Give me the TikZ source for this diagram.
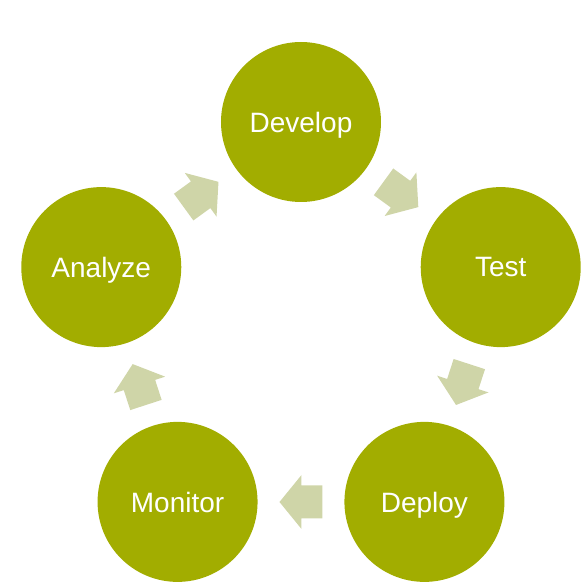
\documentclass[tikz,border=0pt]{standalone}
\usepackage{fontspec}
\setmainfont{Liberation Sans}
\definecolor{olivecirc}{RGB}{162,173,0}
\definecolor{olivearrow}{RGB}{207,213,168}
\tikzset{
  stage/.style={circle, fill=olivecirc, minimum size=160pt, inner sep=0pt, text depth=0pt, text=white, font=\fontsize{28}{30}\selectfont},
  cyclearrow/.style={fill=olivearrow, draw=none}
}
\begin{document}
\begin{tikzpicture}[x=1pt,y=1pt]
\useasboundingbox (-301,-251) rectangle (286,332);
\node[stage] (develop) at (90:210) {Develop};
\node[stage] (test) at (18:210) {Test};
\node[stage] (deploy) at (-54:210) {Deploy};
\node[stage] (monitor) at (-126:210) {Monitor};
\node[stage] (analyze) at (162:210) {Analyze};
\foreach \a in {54,-18,-90,-162,126}{
  \begin{scope}[shift={(\a:170)}, rotate=\a-90]
    \fill[cyclearrow] (-21.5,-16.5) -- (-0.5,-16.5) -- (-0.5,-27) -- (21.5,0) -- (-0.5,27) -- (-0.5,16.5) -- (-21.5,16.5) -- cycle;
  \end{scope}
}
\end{tikzpicture}
\end{document}
